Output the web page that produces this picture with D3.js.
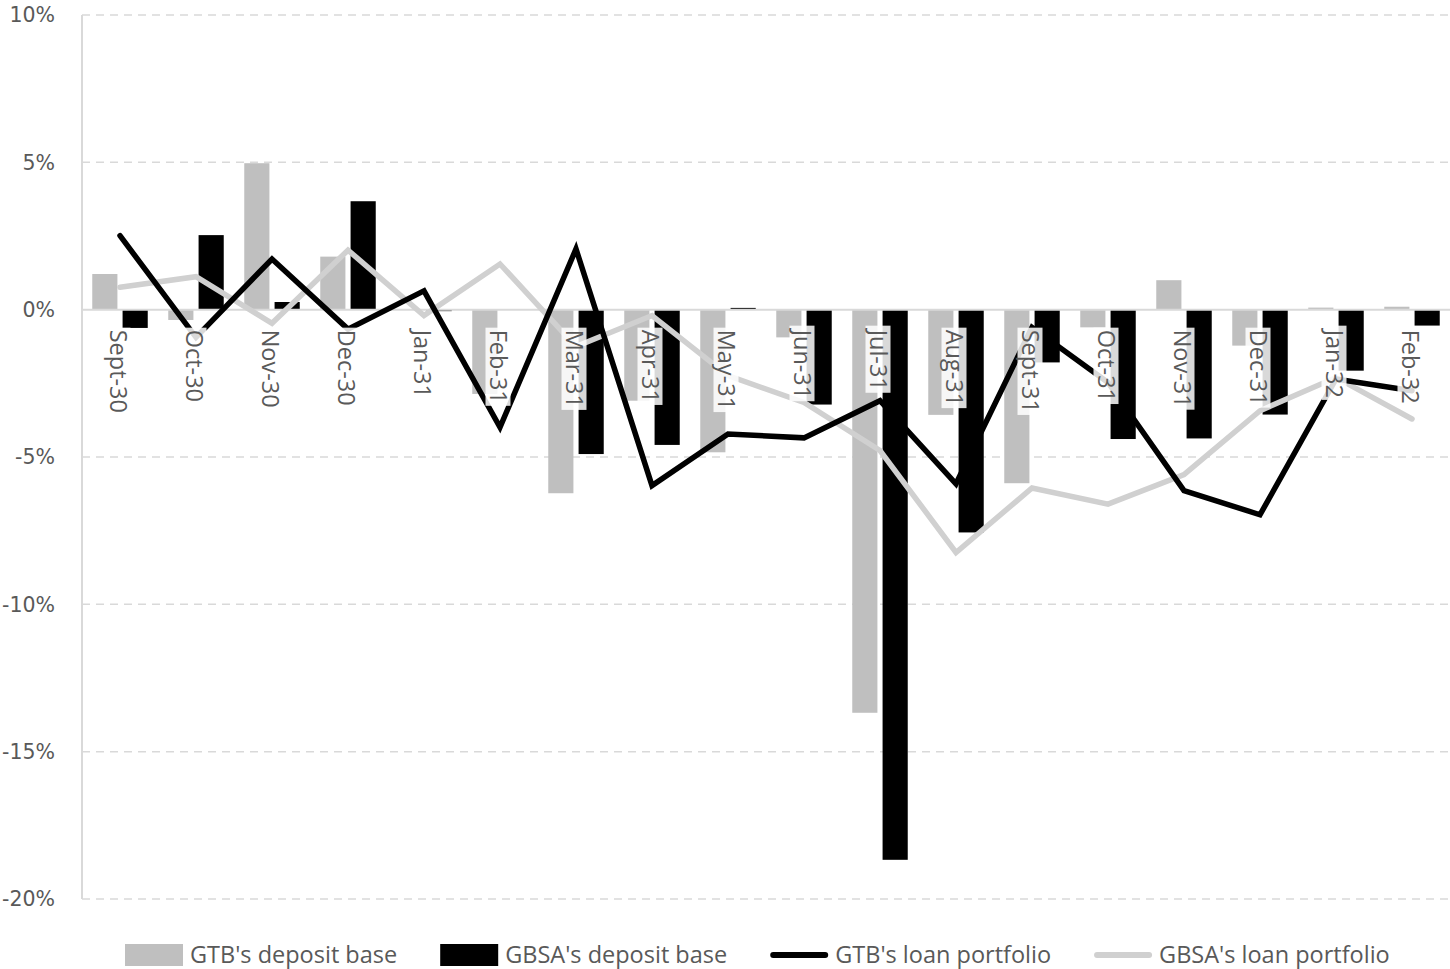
<!DOCTYPE html>
<html>
<head>
<meta charset="utf-8">
<script src="https://cdn.jsdelivr.net/npm/d3@7"></script>
<style>
  body { margin: 0; background: #fff; }
  svg { display: block; }
</style>
</head>
<body>
<div class="chart"></div>
<script>
// months on the x axis
const categories = ["Sept-30", "Oct-30", "Nov-30", "Dec-30", "Jan-31", "Feb-31", "Mar-31", "Apr-31", "May-31",
  "Jun-31", "Jul-31", "Aug-31", "Sept-31", "Oct-31", "Nov-31", "Dec-31", "Jan-32", "Feb-32"];

// monthly change, in %
const gtbDeposit = [1.21, -0.35, 4.97, 1.8, 0, -2.86, -6.23, -3.09, -4.84, -0.94, -13.68, -3.57, -5.89, -0.6, 1.0, -1.22, 0.07, 0.1];
const gbsaDeposit = [-0.62, 2.53, 0.26, 3.68, -0.05, 0, -4.9, -4.59, 0.06, -3.22, -18.67, -7.56, -1.79, -4.39, -4.37, -3.56, -2.07, -0.54];
const gtbLoan = [2.51, -0.94, 1.72, -0.66, 0.64, -3.99, 2.06, -5.97, -4.22, -4.35, -3.09, -5.91, -0.6, -2.47, -6.14, -6.96, -2.35, -2.75];
const gbsaLoan = [0.76, 1.12, -0.46, 2.02, -0.2, 1.55, -1.25, -0.2, -2.24, -3.15, -4.78, -8.24, -6.05, -6.6, -5.6, -3.43, -2.3, -3.71];

const yTicks = [10, 5, 0, -5, -10, -15, -20];
const barSeries = ["GTB's deposit base", "GBSA's deposit base"];
const lineSeries = ["GTB's loan portfolio", "GBSA's loan portfolio"];

const width = 1450, height = 969;
const margin = { top: 15, right: 0, bottom: 70, left: 82 };

const svg = d3.select(".chart").append("svg")
  .attr("width", width)
  .attr("height", height);

const x = d3.scaleBand()
  .domain(categories)
  .range([margin.left, width - margin.right])
  .paddingInner(0.27)
  .paddingOuter(0.135);

const xs = d3.scaleBand()
  .domain([0, 1])
  .range([0, x.bandwidth()])
  .paddingInner(0.17);

const y = d3.scaleLinear()
  .domain([-20, 10])
  .range([height - margin.bottom, margin.top]);

// gridlines (dashed), zero line solid
svg.append("g").selectAll("line")
  .data(yTicks.filter(d => d !== 0))
  .enter().append("line")
  .attr("x1", margin.left).attr("x2", width - margin.right)
  .attr("y1", d => y(d)).attr("y2", d => y(d))
  .attr("stroke", "#d9d9d9")
  .attr("stroke-width", 1.5)
  .attr("stroke-dasharray", "8,6");

// y labels
svg.append("g").selectAll("text")
  .data(yTicks)
  .enter().append("text")
  .attr("x", 55)
  .attr("y", d => y(d))
  .attr("dy", "0.35em")
  .attr("text-anchor", "end")
  .attr("fill", "#595959")
  .style("font-family", "DejaVu Sans")
  .style("font-size", "20.5px")
  .text(d => d + "%");

// bars
const barData = [gtbDeposit, gbsaDeposit];
const barColors = ["#bfbfbf", "#000000"];

barData.forEach((vals, s) => {
  svg.append("g").selectAll("rect")
    .data(vals)
    .enter().append("rect")
    .attr("x", (d, i) => x(categories[i]) + xs(s))
    .attr("width", xs.bandwidth())
    .attr("y", d => y(Math.max(0, d)))
    .attr("height", d => Math.abs(y(d) - y(0)))
    .attr("fill", barColors[s]);
});

// axis lines
svg.append("line")
  .attr("x1", margin.left).attr("x2", margin.left)
  .attr("y1", y(10)).attr("y2", y(-20))
  .attr("stroke", "#d9d9d9").attr("stroke-width", 2);

svg.append("line")
  .attr("x1", margin.left).attr("x2", width - margin.right)
  .attr("y1", y(0)).attr("y2", y(0))
  .attr("stroke", "#d9d9d9").attr("stroke-width", 2);

// lines
const lineData = [gtbLoan, gbsaLoan];
const lineColors = ["#000000", "#d0d0d0"];

const line = d3.line()
  .x((d, i) => x(categories[i]) + x.bandwidth() / 2)
  .y(d => y(d));

// draw grey one first so black sits on top
[1, 0].forEach(s => {
  svg.append("path")
    .datum(lineData[s])
    .attr("d", line)
    .attr("fill", "none")
    .attr("stroke", lineColors[s])
    .attr("stroke-width", 5.5)
    .attr("stroke-linecap", "round")
    .attr("stroke-linejoin", "miter");
});

// category labels, rotated, with a see-through box behind them
const labelG = svg.append("g");
categories.forEach((c, i) => {
  const cx = x(c) + x.bandwidth() / 2 - 2;
  const g = labelG.append("g")
    .attr("transform", "translate(" + cx + "," + (y(0) + 20) + ") rotate(90)");
  const box = g.append("rect");
  const t = g.append("text")
    .attr("x", 0)
    .attr("y", 0)
    .attr("dy", "0.35em")
    .attr("fill", "#595959")
    .style("font-family", "Open Sans")
    .style("font-size", "23.5px")
    .text(c);
  const bb = t.node().getBBox();
  box.attr("x", bb.x - 2)
    .attr("y", -12.5)
    .attr("width", bb.width + 4)
    .attr("height", 25)
    .attr("fill", "#ffffff")
    .attr("fill-opacity", 0.85);
});

// legend
const legend = svg.append("g")
  .attr("transform", "translate(0," + 955 + ")");

const items = [
  { name: barSeries[0], kind: "bar", color: barColors[0] },
  { name: barSeries[1], kind: "bar", color: barColors[1] },
  { name: lineSeries[0], kind: "line", color: lineColors[0] },
  { name: lineSeries[1], kind: "line", color: lineColors[1] }
];

let lx = 125;
items.forEach(it => {
  if (it.kind === "bar") {
    legend.append("rect")
      .attr("x", lx).attr("y", -11)
      .attr("width", 58).attr("height", 22)
      .attr("fill", it.color);
  } else {
    legend.append("line")
      .attr("x1", lx + 3).attr("x2", lx + 55)
      .attr("y1", 0).attr("y2", 0)
      .attr("stroke", it.color)
      .attr("stroke-width", 6)
      .attr("stroke-linecap", "round");
  }
  const t = legend.append("text")
    .attr("x", lx + 65)
    .attr("y", 0)
    .attr("dy", "0.35em")
    .attr("fill", "#595959")
    .style("font-family", "Open Sans")
    .style("font-size", "23.5px")
    .text(it.name);
  lx += 65 + t.node().getComputedTextLength() + 43;
});
</script>
</body>
</html>
